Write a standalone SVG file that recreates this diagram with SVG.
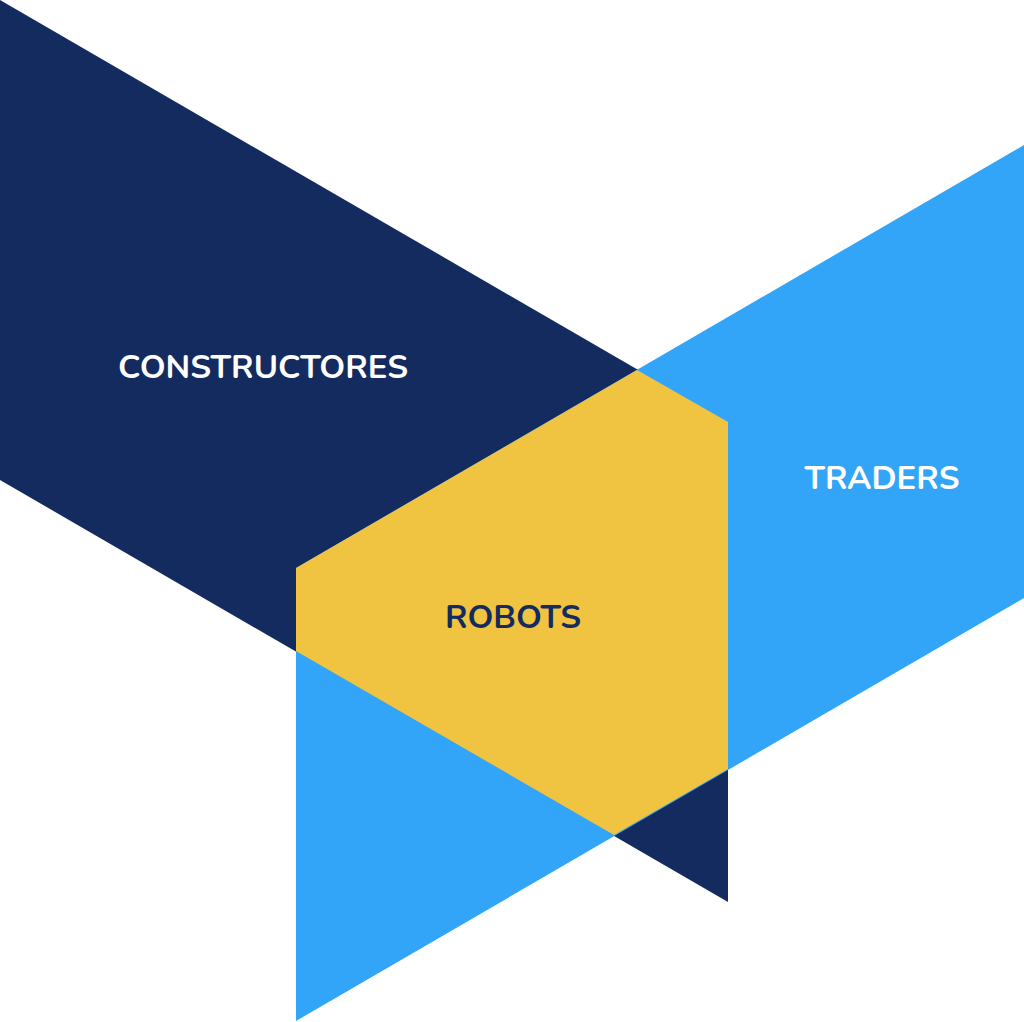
<svg xmlns="http://www.w3.org/2000/svg" width="1024" height="1022" viewBox="0 0 1024 1022">
<style>
.lbl{font-family:"Nunito","Lato","Open Sans","Liberation Sans",sans-serif;font-weight:700;font-size:31px;text-anchor:middle}
.w{fill:#FFFFFF}
.d{fill:#132B5F}
</style>
<rect width="1024" height="1022" fill="#FFFFFF"/>
<g id="constructores">
<polygon points="0,0 728,422 728,902 0,480" fill="#132B5F"/>
</g>
<g id="traders">
<polygon points="296,568 1024,145 1024,598 296,1021" fill="#33A5F8"/>
</g>
<g id="robots">
<polygon points="637,370 728,422 728,769 614,835 296,651 296,568" fill="#F0C340"/>
</g>
<g id="labels">
<text class="lbl w" x="263" y="378" textLength="290" lengthAdjust="spacingAndGlyphs">CONSTRUCTORES</text>
<text class="lbl w" x="882" y="489" textLength="155" lengthAdjust="spacingAndGlyphs">TRADERS</text>
<text class="lbl d" x="513" y="628" textLength="136" lengthAdjust="spacingAndGlyphs">ROBOTS</text>
</g>
</svg>
